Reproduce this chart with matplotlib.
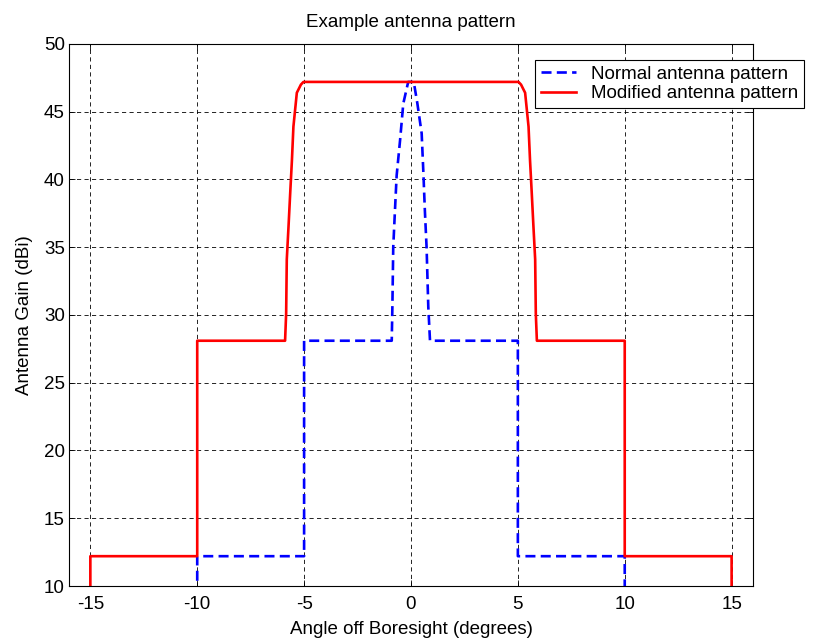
import matplotlib.pyplot as plt

plt.rcParams['font.family'] = ['Liberation Sans', 'DejaVu Sans']
plt.rcParams['axes.unicode_minus'] = False

# --- Normal antenna pattern (angle in degrees, gain in dBi) ---
normal_angle = [-10.0, -10.0, -5.0, -5.0, -0.9, -0.87, -0.83, -0.75, -0.67,
                -0.51, -0.36, -0.13, 0.0, 0.13, 0.3, 0.5, 0.58, 0.65, 0.73,
                0.81, 0.89, 5.0, 5.0, 10.0, 10.0]
normal_gain = [0.0, 12.2, 12.2, 28.1, 28.1, 30.6, 35.0, 37.7, 40.3,
               42.9, 45.6, 47.2, 47.2, 47.2, 45.6, 43.4, 40.5, 37.7, 35.0,
               30.6, 28.1, 28.1, 12.2, 12.2, 0.0]

# --- Modified antenna pattern ---
mod_angle = [-15.0, -15.0, -10.0, -10.0, -5.89, -5.84, -5.81, -5.73, -5.65,
             -5.57, -5.5, -5.34, -5.15, -5.03, 5.03, 5.15, 5.34, 5.5, 5.57,
             5.65, 5.73, 5.81, 5.84, 5.89, 10.0, 10.0, 15.0, 15.0]
mod_gain = [0.0, 12.2, 12.2, 28.1, 28.1, 30.1, 34.1, 36.5, 39.0,
            41.4, 43.9, 46.4, 47.0, 47.2, 47.2, 47.0, 46.4, 43.9, 41.4,
            39.0, 36.5, 34.1, 30.1, 28.1, 28.1, 12.2, 12.2, 0.0]

x_ticks = [-15, -10, -5, 0, 5, 10, 15]
y_ticks = [10, 15, 20, 25, 30, 35, 40, 45, 50]

fs = 13.5

fig = plt.figure(figsize=(8.27, 6.41), dpi=100)
ax = fig.add_axes([0.0834, 0.0858, 0.8271, 0.8456])

ax.plot(normal_angle, normal_gain, color='#0000ff', linestyle=(0, (3.8, 2)),
        linewidth=1.9, label='Normal antenna pattern')
ax.plot(mod_angle, mod_gain, color='#ff0000', linewidth=1.9,
        label='Modified antenna pattern')

ax.set_xlim(-16, 16)
ax.set_ylim(10, 50)
ax.set_xticks(x_ticks)
ax.set_yticks(y_ticks)
ax.tick_params(direction='in', top=True, right=True, length=4, width=0.6,
               labelsize=fs)
ax.tick_params(axis='x', pad=7)
ax.tick_params(axis='y', pad=3)
ax.grid(True, color='black', linestyle=(0, (5, 4)), linewidth=0.6)
for s in ax.spines.values():
    s.set_linewidth(0.8)

ax.set_title('Example antenna pattern', fontsize=fs, pad=12)
ax.set_xlabel('Angle off Boresight (degrees)', fontsize=fs, labelpad=6)
ax.set_ylabel('Antenna Gain (dBi)', fontsize=fs, labelpad=8)

leg = ax.legend(loc='upper left', bbox_to_anchor=(535 / 827, 1 - 60 / 641),
                bbox_transform=fig.transFigure, fontsize=fs, fancybox=False,
                framealpha=1, edgecolor='black', borderpad=0.3,
                handlelength=1.9, handletextpad=0.8, labelspacing=0.12,
                borderaxespad=0)
leg.get_frame().set_linewidth(0.8)

fig.savefig('out.png', dpi=100)
